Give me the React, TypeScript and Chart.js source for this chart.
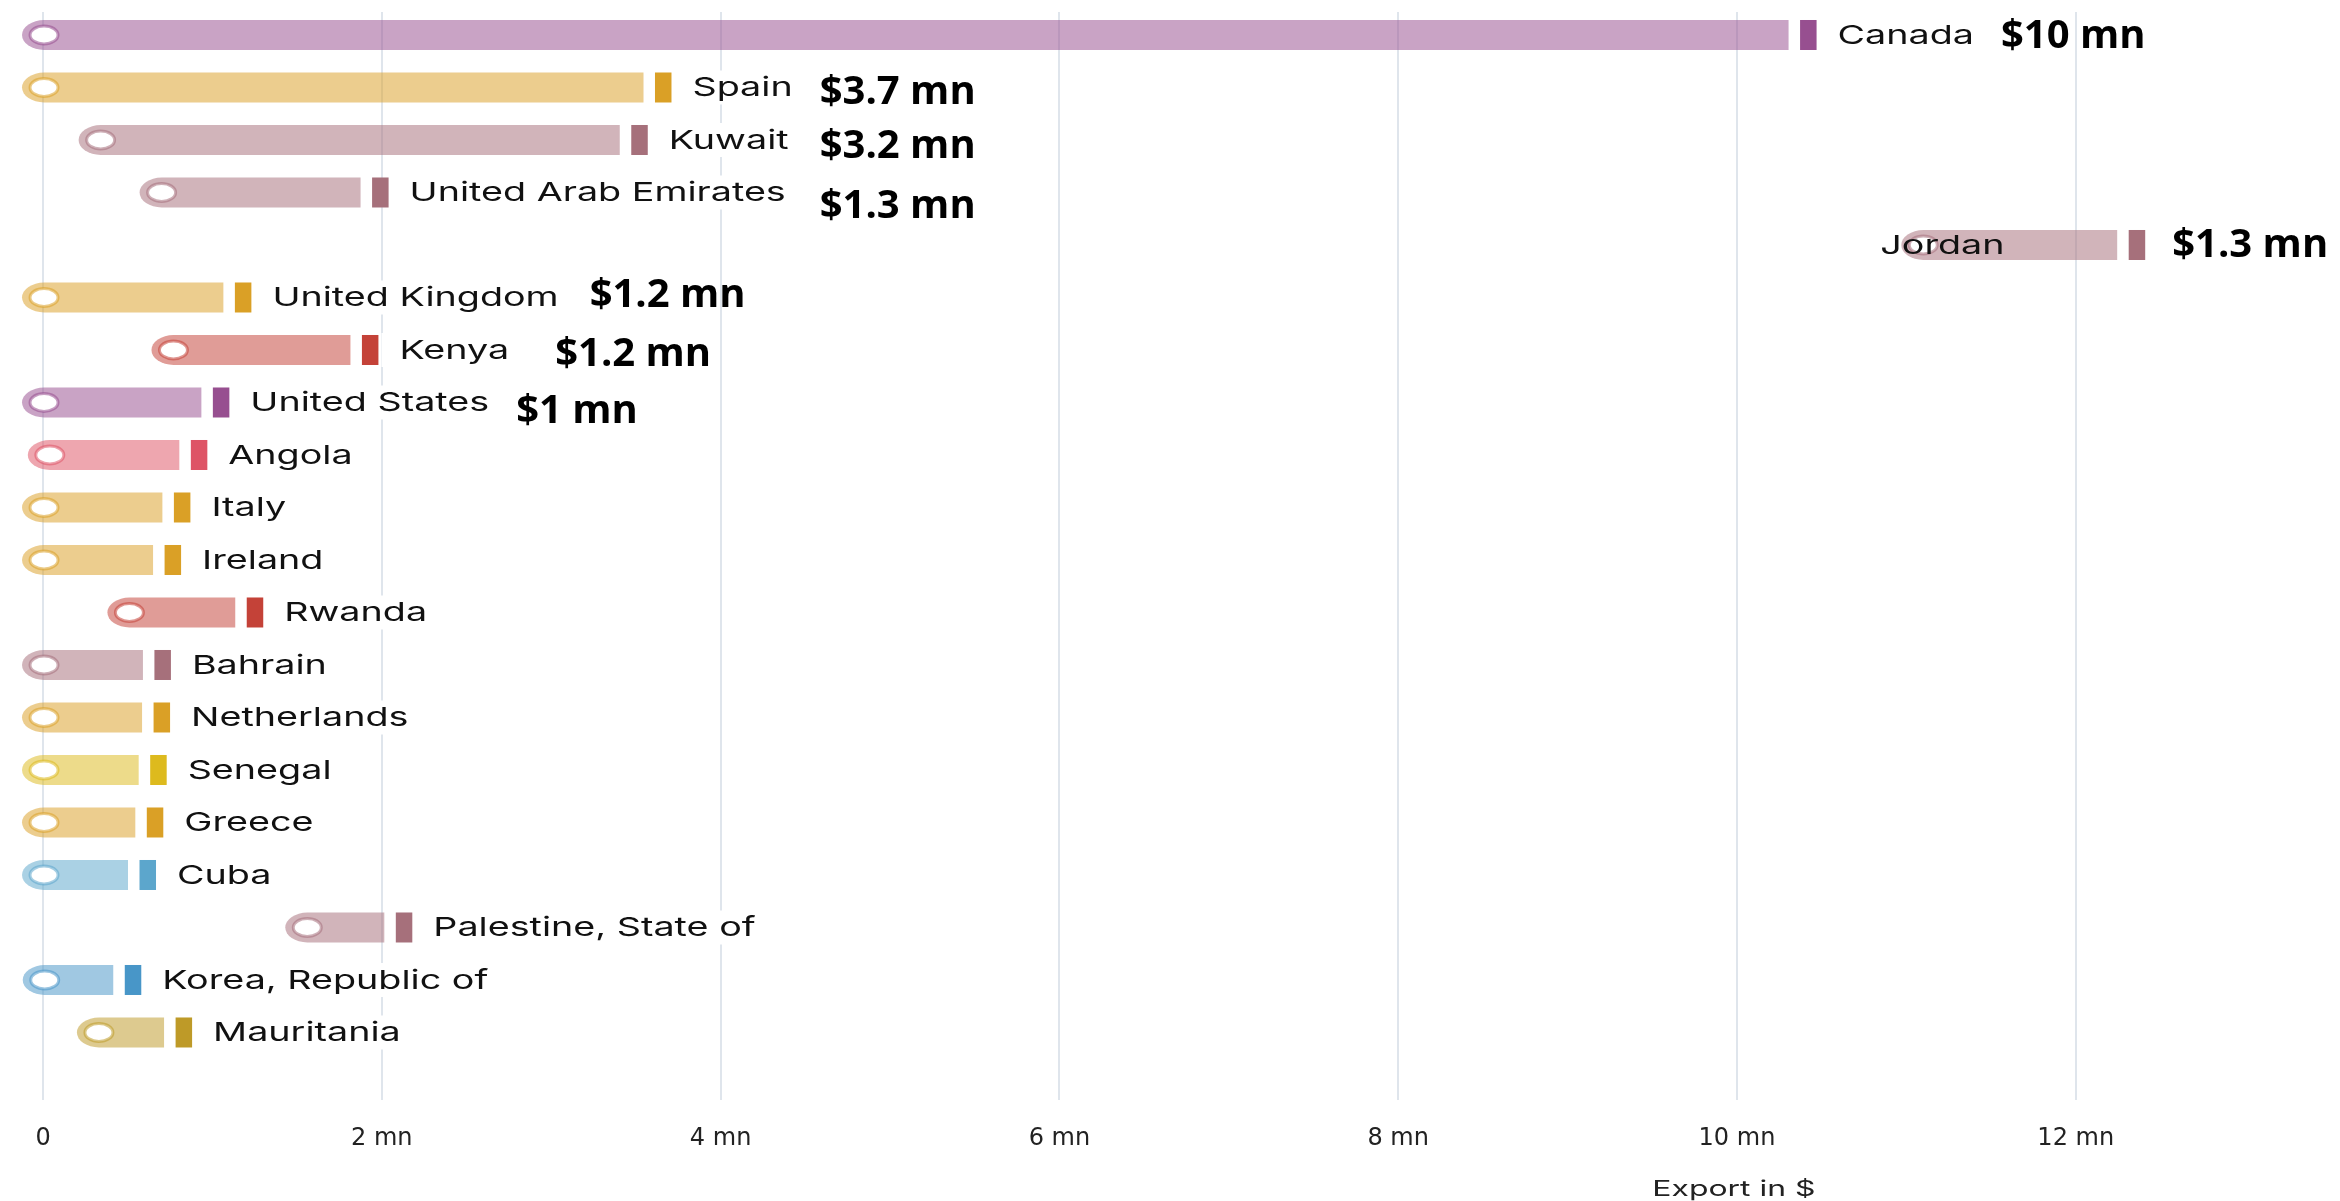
import React, { useEffect, useRef } from 'react';
import { Chart, registerables } from 'chart.js';

Chart.register(...registerables);

// ---- data ----
const countries = [
  'Canada', 'Spain', 'Kuwait', 'United Arab Emirates', 'Jordan', 'United Kingdom', 'Kenya',
  'United States', 'Angola', 'Italy', 'Ireland', 'Rwanda', 'Bahrain', 'Netherlands', 'Senegal',
  'Greece', 'Cuba', 'Palestine, State of', 'Korea, Republic of', 'Mauritania',
];
const startValues = [0, 0, 0.34, 0.7, 11.1, 0, 0.77, 0, 0.04, 0, 0, 0.51, 0, 0, 0, 0, 0, 1.56, 0.01, 0.33];
const endValues = [10.47, 3.71, 3.57, 2.04, 12.41, 1.23, 1.98, 1.1, 0.97, 0.87, 0.815, 1.3, 0.755, 0.75, 0.73, 0.71, 0.667, 2.18, 0.58, 0.88];
const valueLabels = ['$10 mn', '$3.7 mn', '$3.2 mn', '$1.3 mn', '$1.3 mn', '$1.2 mn', '$1.2 mn', '$1 mn', '', '', '', '', '', '', '', '', '', '', '', ''];
const tickValues = [0, 2, 4, 6, 8, 10, 12];
const axisTitle = 'Export in $';

// ---- styles ----
const PURPLE = [151, 79, 144];
const GOLD = [218, 160, 38];
const MAUVE = [166, 112, 123];
const RED = [196, 66, 56];
const PINK = [222, 84, 102];
const YELLOW = [221, 186, 30];
const SKY = [92, 166, 204];
const BLUE = [72, 150, 200];
const OLIVE = [190, 154, 40];
const rowColors = [PURPLE, GOLD, MAUVE, MAUVE, MAUVE, GOLD, RED, PURPLE, PINK, GOLD, GOLD, RED, MAUVE, GOLD, YELLOW, GOLD, SKY, MAUVE, BLUE, OLIVE];
const labelLeftOfBar = [false, false, false, false, true, false, false, false, false, false, false, false, false, false, false, false, false, false, false, false];
const valueGroup = [0, 1, 1, 1, 0, 0, 0, 0, 0, 0, 0, 0, 0, 0, 0, 0, 0, 0, 0, 0];
const valueOffsetX = [0, 0, 0, 0, 0, 4, 19, 0, 0, 0, 0, 0, 0, 0, 0, 0, 0, 0, 0, 0];
const valueOffsetY = [0, 3, 5, 12, -1, -4, 3, 7, 0, 0, 0, 0, 0, 0, 0, 0, 0, 0, 0, 0];

const rgba = (c: number[], a: number) => `rgba(${c[0]},${c[1]},${c[2]},${a})`;

const SX = 1.45; // horizontal stretch of label text
const LABEL_FONT = '26px Inter';
const VALUE_FONT = 'bold 40px "Open Sans"';

const stretchedText = (ctx: CanvasRenderingContext2D, text: string, x: number, y: number, font: string, color: string, align: 'left' | 'center' = 'left') => {
  ctx.save();
  ctx.font = font;
  ctx.fillStyle = color;
  ctx.textBaseline = 'middle';
  ctx.textAlign = 'left';
  const w = ctx.measureText(text).width * SX;
  const sx = align === 'center' ? x - w / 2 : x;
  ctx.translate(sx, y);
  ctx.scale(SX, 1);
  ctx.fillText(text, 0, 0);
  ctx.restore();
  return w;
};

const decorPlugin = {
  id: 'decor',
  afterDatasetsDraw(chart: any) {
    const ctx: CanvasRenderingContext2D = chart.ctx;
    const meta = chart.getDatasetMeta(0);
    const H = 15;
    const valueX: number[] = [];
    const valueY: number[] = [];
    const groupMax: Record<number, number> = {};
    meta.data.forEach((el: any, i: number) => {
      const p = el.getProps(['x', 'y', 'base'], true);
      const x0 = Math.min(p.x, p.base);
      const x1 = Math.max(p.x, p.base);
      const y = p.y;
      const c = rowColors[i];
      // light bar with elliptical cap
      const xe = x1 - 28;
      ctx.save();
      ctx.beginPath();
      ctx.moveTo(xe, y - H);
      ctx.lineTo(xe, y + H);
      ctx.lineTo(x0, y + H);
      ctx.ellipse(x0, y, 22, H, 0, Math.PI / 2, (3 * Math.PI) / 2);
      ctx.closePath();
      ctx.fillStyle = rgba(c, 0.52);
      ctx.fill();
      // knob
      ctx.beginPath();
      ctx.ellipse(x0, y, 14, 9, 0, 0, Math.PI * 2);
      ctx.fillStyle = '#ffffff';
      ctx.fill();
      ctx.lineWidth = 3;
      ctx.strokeStyle = rgba(c, 0.55);
      ctx.stroke();
      // end marker
      ctx.fillStyle = rgba(c, 1);
      ctx.fillRect(x1 - 16.5, y - H, 16.5, 2 * H);
      ctx.restore();

      // country label
      ctx.save();
      ctx.font = LABEL_FONT;
      const tw = ctx.measureText(countries[i]).width * SX;
      ctx.restore();
      let labelEnd: number;
      if (labelLeftOfBar[i]) {
        const lx = x0 - 43;
        stretchedText(ctx, countries[i], lx, y + 1, LABEL_FONT, '#111');
        labelEnd = lx + tw;
        valueX[i] = x1 + 27;
      } else {
        const lx = x1 + 21;
        ctx.save();
        ctx.fillStyle = '#ffffff';
        ctx.fillRect(x1 + 3, y - 17, lx - x1 - 3 + tw + 5, 34);
        ctx.restore();
        stretchedText(ctx, countries[i], lx, y + 1, LABEL_FONT, '#111');
        labelEnd = lx + tw;
        valueX[i] = labelEnd + 27;
      }
      valueX[i] += valueOffsetX[i];
      valueY[i] = y + 2 + valueOffsetY[i];
      const g = valueGroup[i];
      if (g) groupMax[g] = Math.max(groupMax[g] ?? 0, valueX[i]);
    });
    // value labels
    meta.data.forEach((_el: any, i: number) => {
      if (!valueLabels[i]) return;
      const g = valueGroup[i];
      const vx = g ? groupMax[g] : valueX[i];
      ctx.save();
      ctx.font = VALUE_FONT;
      ctx.fillStyle = '#000';
      ctx.textBaseline = 'middle';
      ctx.textAlign = 'left';
      ctx.fillText(valueLabels[i], vx, valueY[i]);
      ctx.restore();
    });
    // axis title
    const area = chart.chartArea;
    stretchedText(ctx, axisTitle, area.left + (area.right - area.left) * 0.741, 1189, '22px Inter', '#222', 'center');
  },
};

export default function App() {
  const ref = useRef<HTMLCanvasElement | null>(null);
  useEffect(() => {
    document.body.style.margin = '0';
    document.body.style.overflow = 'hidden';
    const canvas = ref.current;
    if (!canvas) return;
    const chart = new Chart(canvas, {
      type: 'bar',
      data: {
        datasets: [
          {
            label: 'Export range',
            data: countries.map((_c, i) => ({ x: [startValues[i], endValues[i]], y: i })) as any,
            backgroundColor: 'rgba(0,0,0,0)',
            borderWidth: 0,
            barThickness: 30,
          },
        ],
      },
      options: {
        indexAxis: 'y',
        animation: false,
        responsive: false,
        layout: { padding: { top: 12, left: 0, right: 0, bottom: 0 } },
        plugins: { legend: { display: false }, tooltip: { enabled: false }, title: { display: false } },
        scales: {
          x: {
            type: 'linear',
            position: 'bottom',
            min: -0.254,
            max: 13.56,
            border: { display: false },
            grid: { color: '#dfe5ec', lineWidth: 2, drawTicks: false },
            afterBuildTicks: (scale: any) => {
              scale.ticks = tickValues.map((v) => ({ value: v }));
            },
            afterFit: (scale: any) => {
              scale.height = 101;
            },
            ticks: {
              padding: 24,
              color: '#222',
              font: { family: 'DejaVu Sans', size: 24 },
              callback: (v: any) => (Number(v) === 0 ? '0' : `${v} mn`),
            },
          },
          y: {
            type: 'linear',
            reverse: true,
            offset: false,
            min: -0.438,
            max: 20.286,
            display: false,
          },
        },
      },
      plugins: [decorPlugin],
    } as any);
    return () => chart.destroy();
  }, []);
  return (
    <div style={{ width: 2340, height: 1201 }}>
      <canvas ref={ref} width={2340} height={1201} style={{ display: 'block' }} />
    </div>
  );
}
